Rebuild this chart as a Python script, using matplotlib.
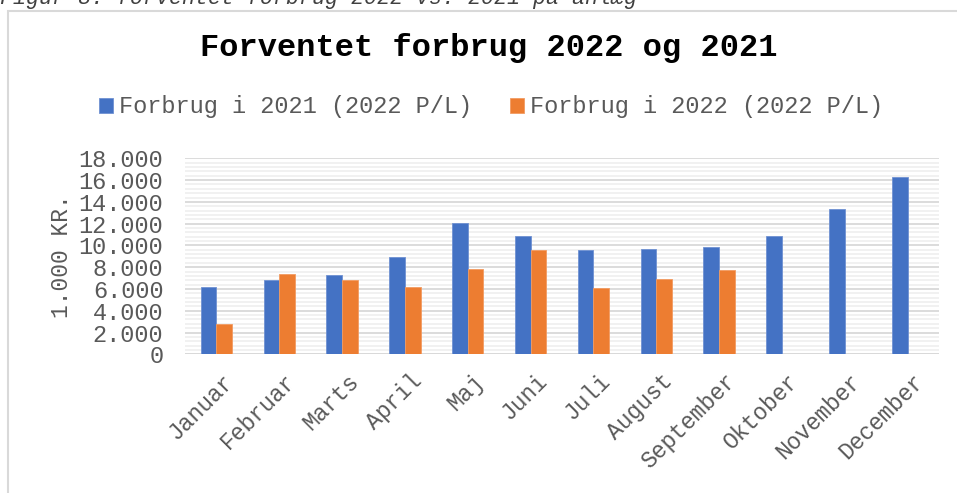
import matplotlib
matplotlib.use("Agg")
import matplotlib.pyplot as plt
from matplotlib.patches import Rectangle
from matplotlib.ticker import MultipleLocator, FuncFormatter
from matplotlib.transforms import ScaledTranslation
import numpy as np

months = ["Januar", "Februar", "Marts", "April", "Maj", "Juni", "Juli",
          "August", "September", "Oktober", "November", "December"]
forbrug_2021 = [6150, 6800, 7300, 8900, 12100, 10900, 9550, 9650, 9850, 10900, 13300, 16250]
forbrug_2022 = [2800, 7400, 6800, 6200, 7800, 9600, 6050, 6900, 7750, np.nan, np.nan, np.nan]
series_names = ["Forbrug i 2021 (2022 P/L)", "Forbrug i 2022 (2022 P/L)"]
title = "Forventet forbrug 2022 og 2021"
ylabel = "1.000 KR."
caption = "Figur 3. forventet forbrug 2022 vs. 2021 på anlæg"

FONT = "Liberation Mono"
GRAY = "#595959"
BLUE = "#4472C4"
ORANGE = "#ED7D31"

fig = plt.figure(figsize=(9.57, 4.93), dpi=100)
W, H = 957, 493

# chart border
fig.patches.append(Rectangle((8 / W, -0.1), 1.2, 1 - 11 / H + 0.1, transform=fig.transFigure,
                             fill=False, edgecolor="#d9d9d9", linewidth=1.5))
# caption (cut off at top)
fig.text(0.0, 1 - 4 / H, caption, family=FONT, style="italic", fontsize=15.6,
         color="#404040", ha="left", va="baseline")

ax = fig.add_axes([185 / W, 1 - 354.3 / H, (939 - 185) / W, (354.3 - 158.3) / H])

x = np.arange(len(months))
bw = 0.25
ax.bar(x - bw / 2, forbrug_2021, bw, color=BLUE, edgecolor="#6f91d2", linewidth=0.6,
       label=series_names[0], zorder=3)
ax.bar(x + bw / 2, forbrug_2022, bw, color=ORANGE, edgecolor="#f29b62", linewidth=0.6,
       label=series_names[1], zorder=3)

ax.set_xlim(-0.5, len(months) - 0.5)
ax.set_ylim(0, 18000)
ax.yaxis.set_major_locator(MultipleLocator(2000))
ax.yaxis.set_minor_locator(MultipleLocator(400))
ax.yaxis.set_major_formatter(FuncFormatter(lambda v, p: "0" if v == 0 else f"{int(v):,}".replace(",", ".")))
ax.grid(which="major", axis="y", color="#d9d9d9", linewidth=1.3, zorder=1)
ax.grid(which="minor", axis="y", color="#f0f0f0", linewidth=1.3, zorder=0)
for s in ax.spines.values():
    s.set_visible(False)
ax.axhline(0, color="#d9d9d9", linewidth=1.3, zorder=2)
ax.tick_params(axis="both", which="both", length=0)
ax.tick_params(axis="y", pad=15.5)

ax.set_xticks(x)
ax.set_xticklabels(months, rotation=45, ha="right", rotation_mode="anchor",
                   family=FONT, fontsize=16.5, color=GRAY)
ax.tick_params(axis="x", pad=11)
offset = ScaledTranslation(5 / 100, 0, fig.dpi_scale_trans)
for lab in ax.get_xticklabels():
    lab.set_transform(lab.get_transform() + offset)
for lab in ax.get_yticklabels():
    lab.set_family(FONT)
    lab.set_fontsize(17)
    lab.set_color(GRAY)
ax.set_ylabel(ylabel, family=FONT, fontsize=16.5, color=GRAY, labelpad=4)

fig.text(489 / W, 1 - 48 / H, title, family=FONT, weight="bold", fontsize=23,
         color="#000000", ha="center", va="center")

leg = fig.legend(loc="center", bbox_to_anchor=(491 / W, 1 - 107 / H), ncol=2,
                 prop={"family": FONT, "size": 17}, frameon=False,
                 handlelength=0.6, handleheight=0.6, handletextpad=0.25,
                 columnspacing=1.6, labelcolor=GRAY)

fig.savefig("out.png", dpi=100)
